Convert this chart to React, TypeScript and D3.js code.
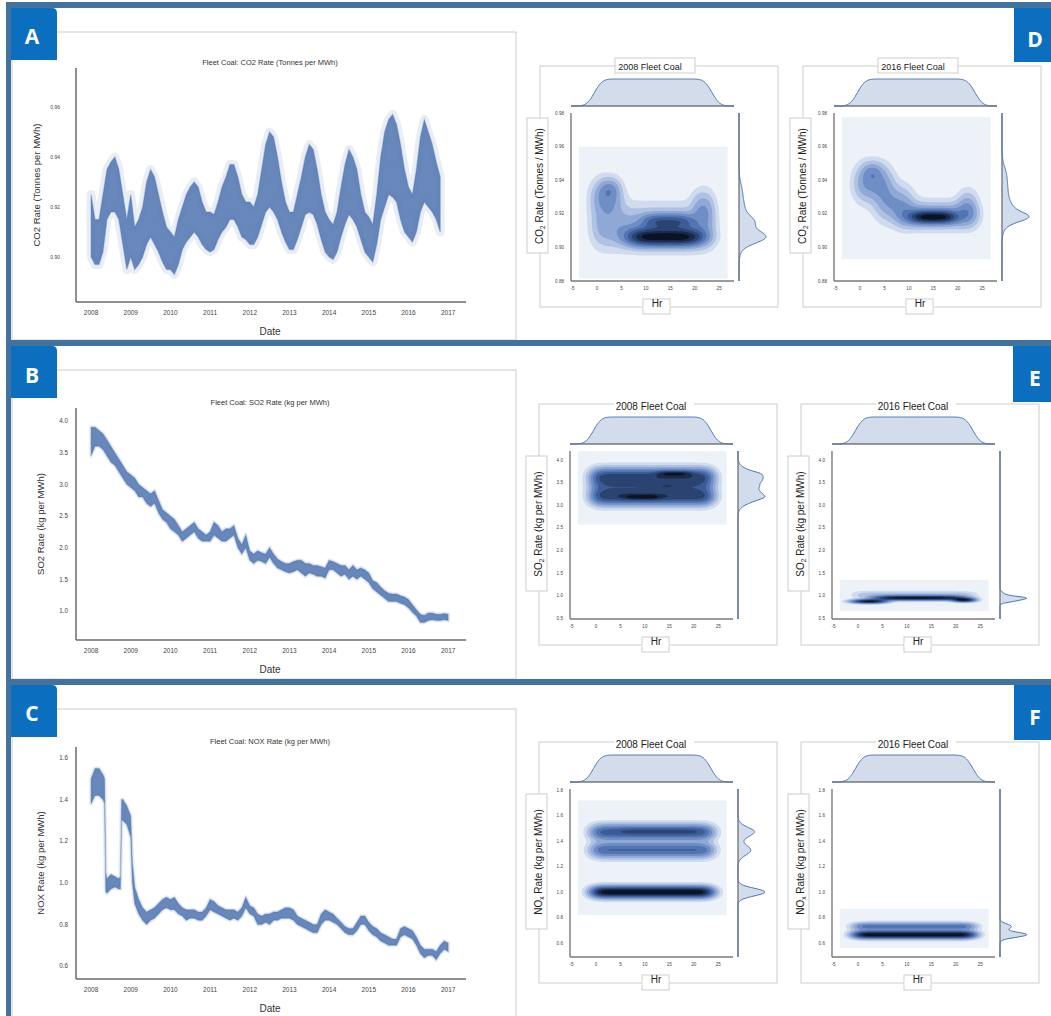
import React from "react";
import * as d3 from "d3";

const FONT = "'Liberation Sans', Arial, Helvetica, sans-serif";
const TAG_FONT = "'Open Sans', 'Liberation Sans', sans-serif";
const FRAME = "#43729e";
const TAG = "#0b6ebf";
const SEA = "#4c72b0";
const BOX = "#cdcdcd";

// ---------------- Time-series data (decimal years, band low / high) ----------------
const yearsAB = [
  2008.0, 2008.1, 2008.2, 2008.3, 2008.4, 2008.5, 2008.6, 2008.7, 2008.8, 2008.9,
  2009.0, 2009.1, 2009.2, 2009.3, 2009.4, 2009.5, 2009.6, 2009.7, 2009.8, 2009.9,
  2010.0, 2010.1, 2010.2, 2010.3, 2010.4, 2010.5, 2010.6, 2010.7, 2010.8, 2010.9,
  2011.0, 2011.1, 2011.2, 2011.3, 2011.4, 2011.5, 2011.6, 2011.7, 2011.8, 2011.9,
  2012.0, 2012.1, 2012.2, 2012.3, 2012.4, 2012.5, 2012.6, 2012.7, 2012.8, 2012.9,
  2013.0, 2013.1, 2013.2, 2013.3, 2013.4, 2013.5, 2013.6, 2013.7, 2013.8, 2013.9,
  2014.0, 2014.1, 2014.2, 2014.3, 2014.4, 2014.5, 2014.6, 2014.7, 2014.8, 2014.9,
  2015.0, 2015.1, 2015.2, 2015.3, 2015.4, 2015.5, 2015.6, 2015.7, 2015.8, 2015.9,
  2016.0, 2016.1, 2016.2, 2016.3, 2016.4, 2016.5, 2016.6, 2016.7, 2016.8, 2016.9,
  2017.0,
];

const co2Lo = [
  0.900, 0.897, 0.897, 0.902, 0.915, 0.918, 0.918, 0.915, 0.905, 0.895,
  0.900, 0.895, 0.897, 0.900, 0.905, 0.908, 0.905, 0.902, 0.898, 0.895,
  0.895, 0.893, 0.897, 0.903, 0.906, 0.908, 0.910, 0.908, 0.905, 0.903,
  0.902, 0.903, 0.907, 0.910, 0.912, 0.915, 0.915, 0.912, 0.908, 0.907,
  0.905, 0.905, 0.908, 0.913, 0.918, 0.920, 0.918, 0.915, 0.910, 0.906,
  0.903, 0.903, 0.907, 0.912, 0.917, 0.918, 0.917, 0.913, 0.907, 0.902,
  0.900, 0.899, 0.902, 0.908, 0.913, 0.917, 0.915, 0.912, 0.907, 0.902,
  0.900, 0.898, 0.905, 0.915, 0.920, 0.925, 0.924, 0.922, 0.915, 0.910,
  0.908, 0.906, 0.910, 0.918, 0.922, 0.920, 0.918, 0.915, 0.910,
];
const co2Hi = [
  0.925, 0.915, 0.915, 0.925, 0.935, 0.938, 0.940, 0.935, 0.925, 0.915,
  0.925, 0.912, 0.915, 0.920, 0.930, 0.935, 0.932, 0.925, 0.918, 0.912,
  0.910, 0.908, 0.915, 0.920, 0.925, 0.928, 0.930, 0.928, 0.922, 0.918,
  0.918, 0.917, 0.922, 0.928, 0.932, 0.937, 0.937, 0.932, 0.925, 0.922,
  0.922, 0.920, 0.925, 0.935, 0.945, 0.950, 0.948, 0.940, 0.930, 0.922,
  0.918, 0.918, 0.925, 0.932, 0.940, 0.945, 0.943, 0.935, 0.925, 0.918,
  0.915, 0.913, 0.918, 0.928, 0.937, 0.943, 0.940, 0.935, 0.925, 0.918,
  0.916, 0.913, 0.925, 0.940, 0.950, 0.955, 0.957, 0.953, 0.945, 0.935,
  0.928, 0.925, 0.935, 0.948, 0.955, 0.950, 0.945, 0.938, 0.932,
];

const so2Lo = [
  3.45, 3.60, 3.60, 3.55, 3.45, 3.35, 3.30, 3.20, 3.10, 3.00,
  2.95, 2.90, 2.80, 2.80, 2.70, 2.65, 2.70, 2.55, 2.45, 2.40,
  2.30, 2.25, 2.20, 2.10, 2.15, 2.20, 2.25, 2.15, 2.10, 2.10,
  2.10, 2.20, 2.15, 2.10, 2.10, 2.15, 2.20, 2.00, 1.90, 2.00,
  1.80, 1.75, 1.80, 1.78, 1.75, 1.85, 1.75, 1.68, 1.65, 1.62,
  1.60, 1.62, 1.65, 1.60, 1.55, 1.60, 1.58, 1.55, 1.55, 1.52,
  1.65, 1.65, 1.60, 1.55, 1.58, 1.50, 1.55, 1.50, 1.55, 1.50,
  1.45, 1.35, 1.30, 1.25, 1.20, 1.15, 1.15, 1.15, 1.12, 1.10,
  1.05, 0.98, 0.92, 0.82, 0.82, 0.85, 0.86, 0.85, 0.85, 0.86,
  0.85,
];
const so2Hi = [
  3.90, 3.90, 3.85, 3.80, 3.70, 3.60, 3.50, 3.40, 3.30, 3.20,
  3.15, 3.10, 3.00, 2.95, 2.90, 2.85, 2.90, 2.75, 2.60, 2.55,
  2.50, 2.45, 2.35, 2.25, 2.30, 2.35, 2.40, 2.30, 2.25, 2.20,
  2.25, 2.40, 2.35, 2.25, 2.30, 2.30, 2.35, 2.15, 2.05, 2.20,
  1.95, 1.90, 1.95, 1.92, 1.90, 2.00, 1.90, 1.82, 1.78, 1.75,
  1.75, 1.78, 1.80, 1.80, 1.75, 1.75, 1.72, 1.72, 1.70, 1.68,
  1.80, 1.78, 1.75, 1.72, 1.72, 1.65, 1.72, 1.65, 1.68, 1.65,
  1.60, 1.48, 1.45, 1.38, 1.32, 1.28, 1.27, 1.27, 1.24, 1.22,
  1.18, 1.10, 1.02, 0.95, 0.93, 0.97, 0.97, 0.95, 0.95, 0.96,
  0.95,
];

const noxYears = [
  2008.0, 2008.1, 2008.2, 2008.3, 2008.34, 2008.37, 2008.4, 2008.5, 2008.6, 2008.7,
  2008.74, 2008.77, 2008.8, 2008.9, 2009.0, 2009.04,
  2009.1, 2009.2, 2009.3, 2009.4, 2009.5, 2009.6, 2009.7, 2009.8, 2009.9,
  2010.0, 2010.1, 2010.2, 2010.3, 2010.4, 2010.5, 2010.6, 2010.7, 2010.8, 2010.9,
  2011.0, 2011.1, 2011.2, 2011.3, 2011.4, 2011.5, 2011.6, 2011.7, 2011.8, 2011.9,
  2012.0, 2012.1, 2012.2, 2012.3, 2012.4, 2012.5, 2012.6, 2012.7, 2012.8, 2012.9,
  2013.0, 2013.1, 2013.2, 2013.3, 2013.4, 2013.5, 2013.6, 2013.7, 2013.8, 2013.9,
  2014.0, 2014.1, 2014.2, 2014.3, 2014.4, 2014.5, 2014.6, 2014.7, 2014.8, 2014.9,
  2015.0, 2015.1, 2015.2, 2015.3, 2015.4, 2015.5, 2015.6, 2015.7, 2015.8, 2015.9,
  2016.0, 2016.1, 2016.2, 2016.3, 2016.4, 2016.5, 2016.6, 2016.7, 2016.8, 2016.9,
  2017.0,
];
const noxLo = [
  1.38, 1.42, 1.42, 1.40, 1.38, 0.96, 0.95, 0.97, 0.98, 0.97,
  0.97, 1.30, 1.30, 1.28, 1.22, 1.00,
  0.90, 0.85, 0.82, 0.80, 0.82, 0.83, 0.85, 0.87, 0.88,
  0.87, 0.87, 0.85, 0.84, 0.82, 0.83, 0.83, 0.82, 0.82, 0.84,
  0.87, 0.86, 0.85, 0.84, 0.83, 0.82, 0.83, 0.82, 0.84, 0.88,
  0.85, 0.84, 0.80, 0.80, 0.81, 0.80, 0.82, 0.82, 0.83, 0.83,
  0.83, 0.82, 0.80, 0.79, 0.78, 0.77, 0.76, 0.76, 0.80, 0.82,
  0.82, 0.81, 0.80, 0.78, 0.76, 0.75, 0.75, 0.77, 0.80, 0.80,
  0.77, 0.75, 0.74, 0.72, 0.71, 0.70, 0.70, 0.70, 0.74, 0.75,
  0.74, 0.73, 0.70, 0.66, 0.64, 0.65, 0.65, 0.63, 0.66, 0.68,
  0.67,
];
const noxHi = [
  1.50, 1.55, 1.55, 1.52, 1.50, 1.05, 1.02, 1.04, 1.03, 1.02,
  1.03, 1.40, 1.40, 1.37, 1.32, 1.10,
  0.98, 0.92, 0.88, 0.86, 0.87, 0.88, 0.90, 0.92, 0.93,
  0.92, 0.93, 0.90, 0.88, 0.87, 0.87, 0.87, 0.86, 0.86, 0.88,
  0.92, 0.91, 0.89, 0.88, 0.87, 0.87, 0.87, 0.86, 0.88, 0.93,
  0.89, 0.88, 0.85, 0.84, 0.85, 0.85, 0.86, 0.86, 0.87, 0.88,
  0.88, 0.87, 0.84, 0.83, 0.82, 0.81, 0.80, 0.80, 0.85, 0.87,
  0.86, 0.85, 0.83, 0.81, 0.79, 0.78, 0.78, 0.81, 0.84, 0.84,
  0.81, 0.79, 0.78, 0.76, 0.75, 0.74, 0.73, 0.73, 0.78, 0.79,
  0.78, 0.77, 0.74, 0.70, 0.68, 0.68, 0.68, 0.67, 0.70, 0.72,
  0.71,
];

const yearTicks = [2008, 2009, 2010, 2011, 2012, 2013, 2014, 2015, 2016, 2017];
const co2Ticks = [0.9, 0.92, 0.94, 0.96];
const so2Ticks = [1.0, 1.5, 2.0, 2.5, 3.0, 3.5, 4.0];
const noxTicks = [0.6, 0.8, 1.0, 1.2, 1.4, 1.6];

// ---------------- Joint KDE data ----------------
const hours = [0, 1, 2, 3, 4, 5, 6, 7, 8, 9, 10, 11, 12, 13, 14, 15, 16, 17, 18, 19, 20, 21, 22, 23];
const hrTicks = [-5, 0, 5, 10, 15, 20, 25];
const jointCO2Ticks = [0.88, 0.9, 0.92, 0.94, 0.96, 0.98];
const jointSO2Ticks = [0.5, 1.0, 1.5, 2.0, 2.5, 3.0, 3.5, 4.0];
const jointNOXTicks = [0.6, 0.8, 1.0, 1.2, 1.4, 1.6, 1.8];

// density ridges: hour span [x0, x1], rate centre y, spread sy, weight w, edge softness s
const kdeCO2_2008 = [
  { x0: -0.5, x1: 23.5, y: 0.912, sy: 0.008, w: 0.3, s: 1.3 },
  { x0: -0.5, x1: 4.5, y: 0.929, sy: 0.007, w: 0.4, s: 1.3 },
  { x0: 1.0, x1: 4.0, y: 0.935, sy: 0.004, w: 0.25, s: 1.0 },
  { x0: 7.0, x1: 21.0, y: 0.906, sy: 0.0035, w: 1.2, s: 2.0 },
  { x0: 10.0, x1: 19.0, y: 0.9155, sy: 0.003, w: 0.6, s: 1.5 },
  { x0: 20.0, x1: 23.5, y: 0.923, sy: 0.007, w: 0.3, s: 1.0 },
];
const kdeCO2_2016 = [
  { x0: -0.5, x1: 6.0, y: 0.938, sy: 0.007, w: 0.45, s: 1.3 },
  { x0: 1.0, x1: 4.0, y: 0.945, sy: 0.004, w: 0.3, s: 1.0 },
  { x0: 4.0, x1: 10.0, y: 0.926, sy: 0.007, w: 0.4, s: 1.5 },
  { x0: 8.0, x1: 23.5, y: 0.919, sy: 0.005, w: 0.45, s: 1.3 },
  { x0: 11.0, x1: 19.0, y: 0.918, sy: 0.0025, w: 1.2, s: 1.5 },
  { x0: 20.5, x1: 23.5, y: 0.925, sy: 0.006, w: 0.3, s: 1.0 },
];
const kdeSO2_2008 = [
  { x0: -0.5, x1: 23.5, y: 3.62, sy: 0.13, w: 0.45, s: 1.3 },
  { x0: -0.5, x1: 23.5, y: 3.2, sy: 0.13, w: 0.45, s: 1.3 },
  { x0: -0.5, x1: 23.5, y: 3.42, sy: 0.1, w: 0.15, s: 1.3 },
  { x0: 13.0, x1: 19.0, y: 3.7, sy: 0.04, w: 0.25, s: 1.2 },
  { x0: 6.0, x1: 13.0, y: 3.18, sy: 0.04, w: 0.2, s: 1.2 },
  { x0: 12.0, x1: 17.0, y: 3.42, sy: 0.03, w: 0.1, s: 1.2 },
];
const kdeSO2_2016 = [
  { x0: -0.5, x1: 5.0, y: 0.87, sy: 0.03, w: 1.0, s: 1.5 },
  { x0: 4.0, x1: 21.0, y: 0.945, sy: 0.035, w: 0.9, s: 2.0 },
  { x0: 20.0, x1: 23.5, y: 0.9, sy: 0.03, w: 0.9, s: 1.0 },
  { x0: -0.5, x1: 23.5, y: 1.02, sy: 0.05, w: 0.12, s: 1.3 },
];
const kdeNOX_2008 = [
  { x0: -0.5, x1: 23.5, y: 1.47, sy: 0.04, w: 0.6, s: 1.3 },
  { x0: 5.0, x1: 21.0, y: 1.48, sy: 0.02, w: 0.12, s: 1.5 },
  { x0: -0.5, x1: 23.5, y: 1.33, sy: 0.04, w: 0.52, s: 1.3 },
  { x0: -0.5, x1: 23.5, y: 1.0, sy: 0.03, w: 1.1, s: 1.3 },
];
const kdeNOX_2016 = [
  { x0: -0.5, x1: 23.5, y: 0.665, sy: 0.02, w: 1.0, s: 1.3 },
  { x0: -0.5, x1: 23.5, y: 0.73, sy: 0.02, w: 0.42, s: 1.3 },
];
// KDE support box: [hrMin, hrMax, rateMin, rateMax]
const boxCO2_2008 = [-3.7, 26.7, 0.8815, 0.96];
const boxCO2_2016 = [-3.7, 26.7, 0.893, 0.9775];
const boxSO2_2008 = [-3.7, 26.7, 2.57, 4.2];
const boxSO2_2016 = [-3.7, 26.7, 0.66, 1.35];
const boxNOX_2008 = [-3.7, 26.7, 0.82, 1.72];
const boxNOX_2016 = [-3.7, 26.7, 0.56, 0.87];

const kdeLevels = [0.03, 0.08, 0.15, 0.24, 0.35, 0.47, 0.6, 0.74, 0.88];
const kdeColors = [
  "#edf1f8", "#d0dbee", "#b0c2e3", "#8fa8d5", "#6f8ec6",
  "#5374b3", "#3d5b96", "#2a4371", "#192a4b", "#0a1224",
];

// ---------------- helpers ----------------
function erf(v: number) {
  const sgn = v < 0 ? -1 : 1;
  const x = Math.abs(v);
  const t = 1 / (1 + 0.3275911 * x);
  const y = 1 - ((((1.061405429 * t - 1.453152027) * t + 1.421413741) * t - 0.284496736) * t + 0.254829592) * t * Math.exp(-x * x);
  return sgn * y;
}
const Phi = (z: number) => 0.5 * (1 + erf(z / Math.SQRT2));

function density(ridges: any[], x: number, y: number) {
  let d = 0;
  for (const c of ridges) {
    const bx = Phi((x - c.x0) / c.s) - Phi((x - c.x1) / c.s);
    d += c.w * bx * Math.exp(-0.5 * ((y - c.y) / c.sy) ** 2);
  }
  return d;
}

// ---------------- Time-series panel ----------------
function TimeSeries(p: any) {
  const { top, bottom, yDomain, yTicks, fmt, years, lo, hi, title, ylabel, ylabelX, tickSize, tickRight, halo } = p;
  const x = d3.scaleLinear().domain([2007.62, 2017.45]).range([76, 466]);
  const y = d3.scaleLinear().domain(yDomain).range([bottom, top]);
  const idx = d3.range(lo.length);
  const area = d3
    .area<number>()
    .x((i) => x(years[i]))
    .y0((i) => y(lo[i]))
    .y1((i) => y(hi[i]));
  const dPath = area(idx) || "";
  const midY = (top + bottom) / 2;
  return (
    <g>
      <text x={270} y={top - 3} fontSize={7.5} fill="#333" textAnchor="middle" fontFamily={FONT}>
        {title}
      </text>
      <path d={dPath} fill={SEA} fillOpacity={0.12} stroke={SEA} strokeOpacity={0.12} strokeWidth={halo} strokeLinejoin="round" />
      <path d={dPath} fill={SEA} fillOpacity={0.82} stroke={SEA} strokeOpacity={0.3} strokeWidth={1.5} />
      <line x1={76} x2={76} y1={top} y2={bottom} stroke="#6a6a6a" strokeWidth={1.5} />
      <line x1={76} x2={466} y1={bottom} y2={bottom} stroke="#6a6a6a" strokeWidth={1.5} />
      {yTicks.map((t: number) => (
        <text key={t} x={tickRight} y={y(t)} dy="0.35em" fontSize={tickSize} fill="#444" textAnchor="end" fontFamily={FONT}>
          {d3.format(fmt)(t)}
        </text>
      ))}
      {yearTicks.map((t) => (
        <text key={t} x={x(t)} y={bottom + 13} fontSize={6.5} fill="#444" textAnchor="middle" fontFamily={FONT}>
          {t}
        </text>
      ))}
      <text x={270} y={bottom + 33} fontSize={10} fill="#333" textAnchor="middle" fontFamily={FONT}>
        Date
      </text>
      <text
        transform={`translate(${ylabelX},${midY}) rotate(-90)`}
        fontSize={9.5}
        fill="#333"
        textAnchor="middle"
        dy="0.35em"
        fontFamily={FONT}
      >
        {ylabel}
      </text>
    </g>
  );
}

// ---------------- Joint KDE panel ----------------
function Joint(p: any) {
  const { ax, ay, yDomain, yTicks, fmt, ridges, box, title, tab, ylabel } = p;
  const W = 163;
  const H = 168;
  const xs = d3.scaleLinear().domain([-5.3, 28]).range([ax, ax + W]);
  const ys = d3.scaleLinear().domain(yDomain).range([ay + H, ay]);
  const [bx0, bx1, by0, by1] = box;
  const nx = 130;
  const ny = 130;
  const vals: number[] = new Array(nx * ny);
  for (let j = 0; j < ny; j++) {
    const yy = by0 + ((j + 0.5) / ny) * (by1 - by0);
    for (let i = 0; i < nx; i++) {
      const xx = bx0 + ((i + 0.5) / nx) * (bx1 - bx0);
      vals[i + j * nx] = density(ridges, xx, yy);
    }
  }
  const mx = d3.max(vals) || 1;
  const th = kdeLevels.map((k) => mx * k);
  const cs = d3.contours().size([nx, ny]).thresholds(th)(vals);
  const proj = d3.geoTransform({
    point: function (this: any, gx: number, gy: number) {
      this.stream.point(xs(bx0 + (gx / nx) * (bx1 - bx0)), ys(by0 + (gy / ny) * (by1 - by0)));
    },
  });
  const gp = d3.geoPath(proj);

  const hx = d3.range(-5.3, 28.01, 0.15);
  const hd = hx.map((v) => d3.sum(hours, (h) => Math.exp(-0.5 * ((v - h) / 1.3) ** 2)));
  const hmax = d3.max(hd) || 1;
  const base = ay - 7;
  const hIdx = d3.range(hx.length);
  const topArea = d3
    .area<number>()
    .x((i) => xs(hx[i]))
    .y0(base)
    .y1((i) => base - (hd[i] / hmax) * 27)
    .curve(d3.curveBasis);
  const topLine = d3
    .line<number>()
    .x((i) => xs(hx[i]))
    .y((i) => base - (hd[i] / hmax) * 27)
    .curve(d3.curveBasis);

  const [d0, d1] = yDomain;
  const ry = d3.range(0, 301).map((k) => d0 + ((d1 - d0) * k) / 300);
  const rd = ry.map((v) => d3.sum(ridges, (c: any) => c.w * (c.x1 - c.x0) * Math.exp(-0.5 * ((v - c.y) / c.sy) ** 2)));
  const rmax = d3.max(rd) || 1;
  const rx = ax + 168;
  const rIdx = d3.range(ry.length);
  const rArea = d3
    .area<number>()
    .y((i) => ys(ry[i]))
    .x0(rx)
    .x1((i) => rx + (rd[i] / rmax) * 27)
    .curve(d3.curveBasis);
  const rLine = d3
    .line<number>()
    .y((i) => ys(ry[i]))
    .x((i) => rx + (rd[i] / rmax) * 27)
    .curve(d3.curveBasis);

  const titleX = ax + 84;
  return (
    <g fontFamily={FONT}>
      <rect x={ax - 31} y={ay - 47} width={238} height={241} fill="#fff" stroke={BOX} strokeWidth={1} />
      <rect x={ax - 44} y={ay + 5} width={21} height={135} fill="#fff" stroke={BOX} strokeWidth={1} />
      <rect x={ax + 72} y={ay + 186} width={27} height={15} fill="#fff" stroke={BOX} strokeWidth={1} />
      <rect x={ax + 72.5} y={ay + 192} width={26} height={4} fill="#fff" />
      {tab ? (
        <rect x={titleX - 40} y={ay - 55} width={80} height={15} fill="#fff" stroke={BOX} strokeWidth={1} />
      ) : (
        <rect x={titleX - 40} y={ay - 50} width={80} height={6} fill="#fff" />
      )}
      <text x={tab ? titleX - 5 : titleX - 3} y={tab ? ay - 43.5 : ay - 41} fontSize={tab ? 9 : 10} fill="#222" textAnchor="middle">
        {title}
      </text>
      <rect x={xs(bx0)} y={ys(by1)} width={xs(bx1) - xs(bx0)} height={ys(by0) - ys(by1)} fill={kdeColors[0]} />
      {cs.map((c, k) => (
        <path key={k} d={gp(c as any) || ""} fill={kdeColors[k + 1]} stroke="none" />
      ))}
      <line x1={ax} x2={ax} y1={ay} y2={ay + H} stroke="#7a7a7a" strokeWidth={1.4} />
      <line x1={ax} x2={ax + W} y1={ay + H} y2={ay + H} stroke="#7a7a7a" strokeWidth={1.4} />
      <line x1={rx} x2={rx} y1={ay} y2={ay + H} stroke="#7a7a7a" strokeWidth={1.4} />
      <line x1={ax} x2={ax + W} y1={base} y2={base} stroke="#7a7a7a" strokeWidth={1.4} />
      <path d={topArea(hIdx) || ""} fill={SEA} fillOpacity={0.25} />
      <path d={topLine(hIdx) || ""} fill="none" stroke={SEA} strokeWidth={1} />
      <path d={rArea(rIdx) || ""} fill={SEA} fillOpacity={0.25} />
      <path d={rLine(rIdx) || ""} fill="none" stroke={SEA} strokeWidth={1} />
      {yTicks.map((t: number) => (
        <text key={t} x={ax - 7} y={ys(t)} dy="0.35em" fontSize={4.6} fill="#444" textAnchor="end">
          {d3.format(fmt)(t)}
        </text>
      ))}
      {hrTicks.map((t) => (
        <text key={t} x={xs(t)} y={ay + H + 9} fontSize={4.6} fill="#444" textAnchor="middle">
          {t}
        </text>
      ))}
      <text x={ax + 86} y={ay + 194} fontSize={10} fill="#222" textAnchor="middle">
        Hr
      </text>
      <text transform={`translate(${ax - 32},${ay + 73}) rotate(-90)`} fontSize={10} fill="#222" textAnchor="middle" dy="0.35em">
        {ylabel[0]}
        <tspan fontSize={6.5} dy={2}>
          {ylabel[1]}
        </tspan>
        <tspan dy={-2}>{ylabel[2]}</tspan>
      </text>
    </g>
  );
}

function Tag({ x, y, w, h, letter, rounded, cx, cy }: any) {
  const r = 5;
  const d = rounded
    ? `M${x},${y} H${x + w - r} Q${x + w},${y} ${x + w},${y + r} V${y + h} H${x} Z`
    : `M${x},${y} H${x + w} V${y + h} H${x} Z`;
  return (
    <g>
      <path d={d} fill={TAG} />
      <text x={cx} y={cy} dy="0.36em" fontSize={21} fontWeight={700} fill="#fff" textAnchor="middle" fontFamily={TAG_FONT}>
        {letter}
      </text>
    </g>
  );
}

export default function App() {
  const co2Years = yearsAB.slice(0, co2Lo.length);
  return (
    <svg
      width={1051}
      height={1016}
      style={{ position: "absolute", left: 0, top: 0, display: "block", background: "#fff" }}
    >
      <rect x={0} y={0} width={1051} height={1016} fill="#fff" />
      <rect x={12} y={32} width={504} height={308} fill="none" stroke={BOX} />
      <rect x={12} y={370} width={504} height={309} fill="none" stroke={BOX} />
      <rect x={12} y={709} width={504} height={320} fill="none" stroke={BOX} />

      <TimeSeries
        top={68}
        bottom={302}
        yDomain={[0.882, 0.9756]}
        yTicks={co2Ticks}
        fmt=".2f"
        years={co2Years}
        lo={co2Lo}
        hi={co2Hi}
        title="Fleet Coal: CO2 Rate (Tonnes per MWh)"
        ylabel="CO2 Rate (Tonnes per MWh)"
        ylabelX={37}
        tickSize={5}
        tickRight={60}
        halo={9}
      />
      <TimeSeries
        top={408}
        bottom={640}
        yDomain={[0.542, 4.205]}
        yTicks={so2Ticks}
        fmt=".1f"
        years={yearsAB}
        lo={so2Lo}
        hi={so2Hi}
        title="Fleet Coal: SO2 Rate (kg per MWh)"
        ylabel="SO2 Rate (kg per MWh)"
        ylabelX={41}
        tickSize={6.3}
        tickRight={68}
        halo={4}
      />
      <TimeSeries
        top={747}
        bottom={979}
        yDomain={[0.5375, 1.653]}
        yTicks={noxTicks}
        fmt=".1f"
        years={noxYears}
        lo={noxLo}
        hi={noxHi}
        title="Fleet Coal: NOX Rate (kg per MWh)"
        ylabel="NOX Rate (kg per MWh)"
        ylabelX={41}
        tickSize={6.3}
        tickRight={68}
        halo={4}
      />

      <Joint ax={571} ay={113} yDomain={[0.88, 0.98]} yTicks={jointCO2Ticks} fmt=".2f" ridges={kdeCO2_2008} box={boxCO2_2008} title="2008 Fleet Coal" tab={true} ylabel={["CO", "2", " Rate (Tonnes / MWh)"]} />
      <Joint ax={834} ay={113} yDomain={[0.88, 0.98]} yTicks={jointCO2Ticks} fmt=".2f" ridges={kdeCO2_2016} box={boxCO2_2016} title="2016 Fleet Coal" tab={true} ylabel={["CO", "2", " Rate (Tonnes / MWh)"]} />
      <Joint ax={570} ay={451} yDomain={[0.48, 4.2]} yTicks={jointSO2Ticks} fmt=".1f" ridges={kdeSO2_2008} box={boxSO2_2008} title="2008 Fleet Coal" tab={false} ylabel={["SO", "2", " Rate (kg per MWh)"]} />
      <Joint ax={832} ay={451} yDomain={[0.48, 4.2]} yTicks={jointSO2Ticks} fmt=".1f" ridges={kdeSO2_2016} box={boxSO2_2016} title="2016 Fleet Coal" tab={false} ylabel={["SO", "2", " Rate (kg per MWh)"]} />
      <Joint ax={570} ay={789} yDomain={[0.49, 1.81]} yTicks={jointNOXTicks} fmt=".1f" ridges={kdeNOX_2008} box={boxNOX_2008} title="2008 Fleet Coal" tab={false} ylabel={["NO", "x", " Rate (kg per MWh)"]} />
      <Joint ax={832} ay={789} yDomain={[0.49, 1.81]} yTicks={jointNOXTicks} fmt=".1f" ridges={kdeNOX_2016} box={boxNOX_2016} title="2016 Fleet Coal" tab={false} ylabel={["NO", "x", " Rate (kg per MWh)"]} />

      <rect x={6} y={2} width={1045} height={6} fill={FRAME} />
      <rect x={6} y={2} width={5} height={1014} fill={FRAME} />
      <rect x={6} y={340} width={1045} height={6} fill={FRAME} />
      <rect x={6} y={679} width={1045} height={6} fill={FRAME} />

      <Tag x={11} y={8} w={46} h={52} letter="A" rounded cx={32} cy={36} />
      <Tag x={11} y={346} w={46} h={52} letter="B" rounded cx={32} cy={375} />
      <Tag x={11} y={685} w={46} h={52} letter="C" rounded cx={32} cy={713} />
      <Tag x={1014} y={8} w={37} h={54} letter="D" cx={1035} cy={39} />
      <Tag x={1013} y={346} w={38} h={56} letter="E" cx={1035} cy={378} />
      <Tag x={1014} y={685} w={37} h={55} letter="F" cx={1035} cy={717} />
    </svg>
  );
}
